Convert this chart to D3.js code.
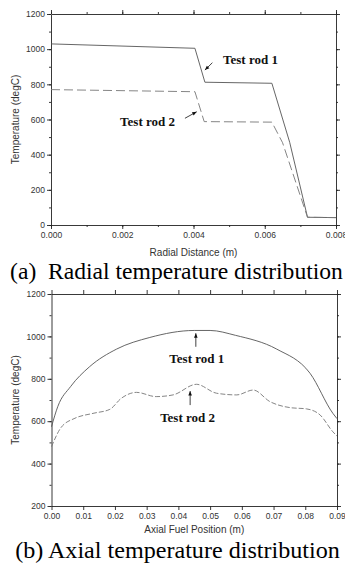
<!DOCTYPE html>
<html>
<head>
<meta charset="utf-8">
<script src="https://cdn.jsdelivr.net/npm/d3@7/dist/d3.min.js"></script>
<style>
  body { margin: 0; background: #fff; }
  svg { display: block; }
</style>
</head>
<body>
<svg id="fig" width="345" height="566"></svg>
<script>
// (a) radial temperature, x in m, T in degC
const radialXRod1 = [0, 0.00404, 0.00432, 0.0062, 0.0067, 0.0072, 0.008];
const radialRod1 = [1030, 1005, 812, 806, 470, 44, 42];
const radialXRod2 = [0, 0.00404, 0.0043, 0.0062, 0.0065, 0.0072, 0.008];
const radialRod2 = [770, 758, 588, 585, 468, 44, 42];
const radialXTicks = [0, 0.002, 0.004, 0.006, 0.008];
const radialYTicks = [0, 200, 400, 600, 800, 1000, 1200];

// (b) axial temperature
const axialXRod1 = [0, 0.002, 0.006, 0.012, 0.0205, 0.031, 0.045, 0.05, 0.058, 0.071, 0.0815, 0.0887, 0.09];
const axialRod1 = [574, 670, 763, 857, 940, 995, 1028, 1028, 1005, 940, 826, 637, 612];
const axialXRod2 = [0, 0.003, 0.0074, 0.0131, 0.0184, 0.022, 0.0268, 0.033, 0.0383, 0.0457, 0.052, 0.0584, 0.0636, 0.0689, 0.0752, 0.0804, 0.0847, 0.0887, 0.09];
const axialRod2 = [480, 570, 614, 637, 656, 708, 736, 716, 724, 774, 732, 724, 747, 692, 664, 658, 629, 550, 530];
const axialXTicks = [0, 0.01, 0.02, 0.03, 0.04, 0.05, 0.06, 0.07, 0.08, 0.09];
const axialYTicks = [200, 400, 600, 800, 1000, 1200];

const svg = d3.select('#fig');
const tickFont = 'Liberation Sans, Arial, sans-serif';
const serif = 'Liberation Serif, Times New Roman, serif';

function drawPanel(cfg) {
  const x = d3.scaleLinear().domain(cfg.xDomain).range([cfg.left, cfg.right]);
  const y = d3.scaleLinear().domain(cfg.yDomain).range([cfg.bottom, cfg.top]);
  const g = svg.append('g');

  // minor ticks
  const minorX = cfg.xMinor ? d3.range(cfg.xDomain[0], cfg.xDomain[1] + 1e-9, cfg.xMinor) : [];
  const minorY = d3.range(cfg.yDomain[0], cfg.yDomain[1] + 1e-9, cfg.yMinor);

  const axes = [
    [d3.axisBottom(x), `translate(0,${cfg.bottom})`, cfg.xTicks, minorX, true],
    [d3.axisTop(x), `translate(0,${cfg.top})`, cfg.xTicks, minorX, false],
    [d3.axisLeft(y), `translate(${cfg.left},0)`, cfg.yTicks, minorY, true],
    [d3.axisRight(y), `translate(${cfg.right},0)`, cfg.yTicks, minorY, false]
  ];
  axes.forEach(([ax, tr, ticks, minor, labels], i) => {
    const fmt = i < 2 ? cfg.xFormat : d3.format('d');
    g.append('g').attr('transform', tr)
      .call(ax.tickValues(minor).tickSize(2).tickSizeOuter(0).tickFormat(''))
      .call(s => s.select('.domain').remove());
    const a = g.append('g').attr('transform', tr)
      .call(ax.tickValues(ticks).tickSize(4).tickSizeOuter(0).tickPadding(i < 2 ? 3 : 2)
        .tickFormat(labels ? fmt : ''));
    a.selectAll('text').attr('font-family', tickFont).attr('font-size', 8.5).attr('fill', '#333');
  });
  g.selectAll('.domain, .tick line').attr('stroke', '#222').attr('stroke-width', 0.9);

  const line = (xs, ys, curve) => d3.line()
    .x((d, i) => x(xs[i])).y(d => y(d)).curve(curve)(ys);

  g.append('path').attr('d', line(cfg.x1, cfg.y1, cfg.curve))
    .attr('fill', 'none').attr('stroke', '#555').attr('stroke-width', 0.9);
  g.append('path').attr('d', line(cfg.x2, cfg.y2, cfg.curve))
    .attr('fill', 'none').attr('stroke', '#777').attr('stroke-width', 0.9)
    .attr('stroke-dasharray', cfg.dash);

  // axis titles
  g.append('text').attr('x', (cfg.left + cfg.right) / 2).attr('y', cfg.xTitleY)
    .attr('text-anchor', 'middle').attr('font-family', tickFont).attr('font-size', 10)
    .attr('fill', '#333').text(cfg.xTitle);
  g.append('text')
    .attr('transform', `translate(19,${(cfg.top + cfg.bottom) / 2}) rotate(-90)`)
    .attr('text-anchor', 'middle').attr('font-family', tickFont).attr('font-size', 10)
    .attr('fill', '#333').text('Temperature (degC)');

  // annotations
  cfg.notes.forEach(n => {
    g.append('text').attr('x', x(n.tx)).attr('y', y(n.ty))
      .attr('text-anchor', 'middle').attr('font-family', serif).attr('font-weight', 'bold')
      .attr('font-size', 13).attr('fill', '#111').text(n.label);
    const x0 = x(n.ax0), y0 = y(n.ay0), x1 = x(n.ax1), y1 = y(n.ay1);
    g.append('line').attr('x1', x0).attr('y1', y0).attr('x2', x1).attr('y2', y1)
      .attr('stroke', '#111').attr('stroke-width', 0.8);
    const ang = Math.atan2(y1 - y0, x1 - x0) * 180 / Math.PI;
    g.append('path').attr('d', 'M0,0L-4.5,-1.8L-4.5,1.8Z')
      .attr('transform', `translate(${x1},${y1}) rotate(${ang})`).attr('fill', '#111');
  });

  // caption, sized to the width it spans in the figure
  const cap = svg.append('text').attr('x', cfg.capX).attr('y', cfg.capY)
    .attr('text-anchor', 'middle').attr('font-family', serif).attr('font-size', 20)
    .attr('fill', '#000').text(cfg.caption);
  const w = cap.node().getComputedTextLength();
  cap.attr('font-size', 20 * cfg.capW / w);
}

drawPanel({
  xDomain: [0, 0.008], yDomain: [0, 1200],
  left: 51, right: 336, top: 14, bottom: 225,
  xTicks: radialXTicks, yTicks: radialYTicks, xMinor: 0.001, yMinor: 100,
  xFormat: d3.format('.3f'),
  x1: radialXRod1, y1: radialRod1, x2: radialXRod2, y2: radialRod2,
  curve: d3.curveLinear, dash: '9,4',
  xTitle: 'Radial Distance (m)', xTitleY: 256,
  notes: [
    { label: 'Test rod 1', tx: 0.0056, ty: 916, ax0: 0.00453, ay0: 923, ax1: 0.00432, ay1: 881 },
    { label: 'Test rod 2', tx: 0.00271, ty: 563, ax0: 0.00376, ay0: 607, ax1: 0.00409, ay1: 644 }
  ],
  caption: '(a)\u00a0 Radial temperature distribution', capX: 176.5, capY: 279, capW: 333
});

drawPanel({
  xDomain: [0, 0.09], yDomain: [200, 1200],
  left: 51.5, right: 337, top: 294, bottom: 506,
  xTicks: axialXTicks, yTicks: axialYTicks, xMinor: null, yMinor: 100,
  xFormat: d3.format('.2f'),
  x1: axialXRod1, y1: axialRod1, x2: axialXRod2, y2: axialRod2,
  curve: d3.curveMonotoneX, dash: '5,2',
  xTitle: 'Axial Fuel Position (m)', xTitleY: 533,
  notes: [
    { label: 'Test rod 1', tx: 0.0458, ty: 874, ax0: 0.0455, ay0: 951, ax1: 0.0455, ay1: 1015 },
    { label: 'Test rod 2', tx: 0.0429, ty: 598, ax0: 0.0437, ay0: 676, ax1: 0.0437, ay1: 742 }
  ],
  caption: '(b) Axial temperature distribution', capX: 177.5, capY: 558, capW: 325
});
</script>
</body>
</html>
